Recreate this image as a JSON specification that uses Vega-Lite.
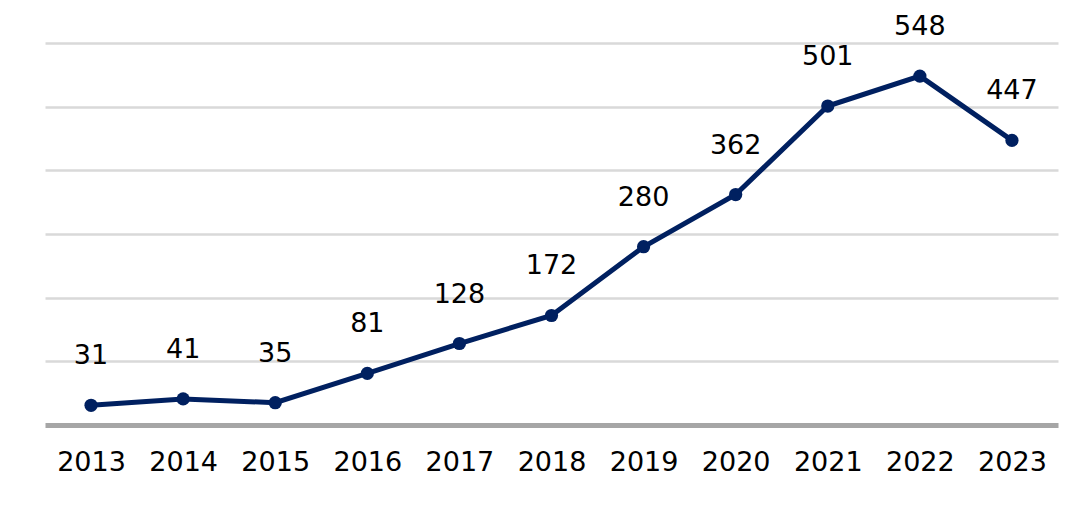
{
  "$schema": "https://vega.github.io/schema/vega-lite/v6.json",
  "autosize": "none",
  "padding": {"left": 45, "top": 43, "right": 33, "bottom": 95},
  "width": 1013,
  "height": 382,
  "background": "white",
  "config": {"view": {"stroke": null}, "font": "DejaVu Sans"},
  "data": {
    "values": [
      {"year": "2013", "count": 31},
      {"year": "2014", "count": 41},
      {"year": "2015", "count": 35},
      {"year": "2016", "count": 81},
      {"year": "2017", "count": 128},
      {"year": "2018", "count": 172},
      {"year": "2019", "count": 280},
      {"year": "2020", "count": 362},
      {"year": "2021", "count": 501},
      {"year": "2022", "count": 548},
      {"year": "2023", "count": 447}
    ]
  },
  "encoding": {
    "x": {
      "field": "year",
      "type": "ordinal",
      "scale": {"type": "point", "padding": 0.5},
      "axis": {
        "title": null,
        "labelAngle": 0,
        "labelFont": "DejaVu Sans",
        "labelFontSize": 27,
        "labelColor": "#000000",
        "labelPadding": 24,
        "ticks": false,
        "domainColor": "#a6a6a6",
        "domainWidth": 5,
        "grid": false
      }
    },
    "y": {
      "field": "count",
      "type": "quantitative",
      "scale": {"domain": [0, 600]},
      "axis": {
        "title": null,
        "labels": false,
        "ticks": false,
        "domain": false,
        "values": [100, 200, 300, 400, 500, 600],
        "gridColor": "#d9d9d9",
        "gridWidth": 2.5
      }
    }
  },
  "layer": [
    {
      "mark": {"type": "line", "color": "#002060", "strokeWidth": 5}
    },
    {
      "mark": {"type": "point", "filled": true, "color": "#002060", "size": 175, "opacity": 1}
    },
    {
      "mark": {
        "type": "text",
        "dy": -49,
        "baseline": "middle",
        "align": "center",
        "font": "DejaVu Sans",
        "fontSize": 27,
        "color": "#000000"
      },
      "encoding": {"text": {"field": "count", "type": "quantitative"}}
    }
  ]
}
